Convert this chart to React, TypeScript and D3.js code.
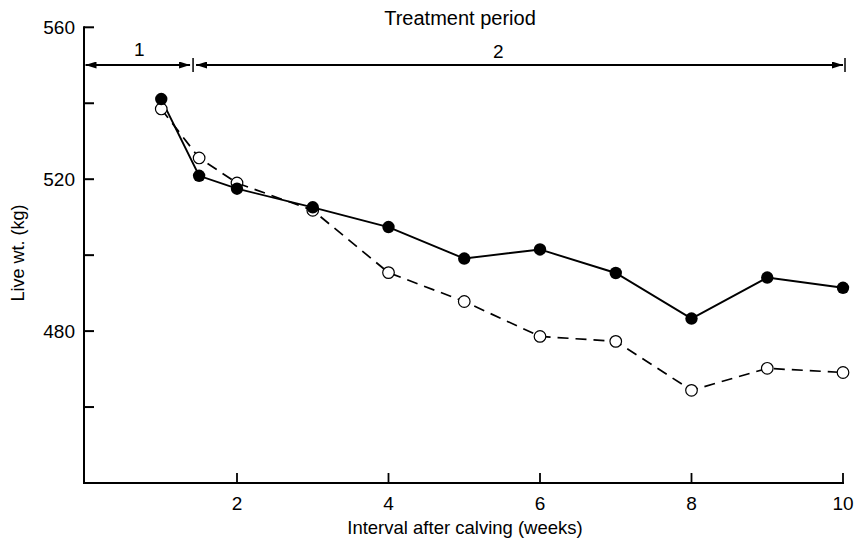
import React, { useEffect, useRef } from 'react';
import * as d3 from 'd3';

// weeks after calving
const weeks = [1, 1.5, 2, 3, 4, 5, 6, 7, 8, 9, 10];
// live weight (kg), filled circles / solid line
const filledWt = [541.1, 520.9, 517.5, 512.6, 507.4, 499.1, 501.5, 495.3, 483.3, 494.1, 491.4];
// live weight (kg), open circles / dashed line
const openWt = [538.5, 525.6, 519.0, 511.8, 495.4, 487.8, 478.6, 477.3, 464.4, 470.2, 469.1];

const xTicks = [2, 4, 6, 8, 10];
const yTicks = [460, 480, 500, 520, 540, 560];
const yTickLabels = [480, 520, 560];

// treatment periods along the top
const periodLabels = ['1', '2'];
const periodStart = [0, 1.42];
const periodEnd = [1.42, 10];
const periodLabelAt = [0.71, 5.45];

const FONT = 'Liberation Sans, Arial, Helvetica, sans-serif';

const App = () => {
  const ref = useRef<SVGSVGElement>(null);

  useEffect(() => {
    const svg = d3.select(ref.current);
    svg.selectAll('*').remove();
    draw(svg);
  }, []);

  return (
    <svg
      ref={ref}
      width={857}
      height={545}
      style={{ position: 'absolute', left: 0, top: 0, background: '#fff' }}
    />
  );
};

const draw = (svg: any) => {
  const x = d3.scaleLinear().domain([0, 10]).range([85.5, 843]);
  const y = d3.scaleLinear().domain([440, 560]).range([483, 27.3]);

  const defs = svg.append('defs');
  // arrow heads
  defs.append('marker')
    .attr('id', 'arr')
    .attr('viewBox', '0 0 11 7')
    .attr('refX', 11)
    .attr('refY', 3.5)
    .attr('markerWidth', 11)
    .attr('markerHeight', 7)
    .attr('markerUnits', 'userSpaceOnUse')
    .attr('orient', 'auto-start-reverse')
    .append('path')
    .attr('d', 'M0,0 L11,3.5 L0,7 Z')
    .attr('fill', '#000');

  const g = svg.append('g');

  // axes
  const axisX0 = x(0) - 1.5;
  g.append('line')
    .attr('x1', axisX0).attr('x2', axisX0)
    .attr('y1', y(560) - 1).attr('y2', y(440) + 1)
    .attr('stroke', '#000').attr('stroke-width', 2);
  g.append('line')
    .attr('x1', axisX0).attr('x2', x(10) + 1)
    .attr('y1', y(440)).attr('y2', y(440))
    .attr('stroke', '#000').attr('stroke-width', 2);

  // y ticks point inwards
  g.selectAll('.ytick')
    .data(yTicks)
    .enter().append('line')
    .attr('x1', axisX0).attr('x2', axisX0 + 10)
    .attr('y1', (d: number) => y(d)).attr('y2', (d: number) => y(d))
    .attr('stroke', '#000').attr('stroke-width', 2);

  g.selectAll('.ylab')
    .data(yTickLabels)
    .enter().append('text')
    .attr('x', axisX0 - 9)
    .attr('y', (d: number) => y(d) + 7)
    .attr('text-anchor', 'end')
    .attr('font-family', FONT)
    .attr('font-size', 19)
    .text((d: number) => d);

  // x ticks point up
  g.selectAll('.xtick')
    .data(xTicks)
    .enter().append('line')
    .attr('x1', (d: number) => x(d)).attr('x2', (d: number) => x(d))
    .attr('y1', y(440)).attr('y2', y(440) - 10)
    .attr('stroke', '#000').attr('stroke-width', 1.8);

  g.selectAll('.xlab')
    .data(xTicks)
    .enter().append('text')
    .attr('x', (d: number) => x(d))
    .attr('y', 510)
    .attr('text-anchor', 'middle')
    .attr('font-family', FONT)
    .attr('font-size', 19)
    .text((d: number) => d);

  g.append('text')
    .attr('x', 465)
    .attr('y', 534)
    .attr('text-anchor', 'middle')
    .attr('font-family', FONT)
    .attr('font-size', 18.5)
    .text('Interval after calving (weeks)');

  g.append('text')
    .attr('transform', 'translate(24,253) rotate(-90)')
    .attr('text-anchor', 'middle')
    .attr('font-family', FONT)
    .attr('font-size', 18)
    .text('Live wt. (kg)');

  // treatment period header
  const arrowY = 65;
  g.append('text')
    .attr('x', 460)
    .attr('y', 24.5)
    .attr('text-anchor', 'middle')
    .attr('font-family', FONT)
    .attr('font-size', 20)
    .text('Treatment period');

  periodLabels.forEach((lab, i) => {
    const a = x(periodStart[i]) + (i === 0 ? 0 : 3);
    const b = x(periodEnd[i]) - (i === 0 ? 3 : 0);
    g.append('line')
      .attr('x1', a).attr('x2', b)
      .attr('y1', arrowY).attr('y2', arrowY)
      .attr('stroke', '#000').attr('stroke-width', 1.8)
      .attr('marker-start', 'url(#arr)')
      .attr('marker-end', 'url(#arr)');
    g.append('text')
      .attr('x', x(periodLabelAt[i]))
      .attr('y', i === 0 ? 56 : 58)
      .attr('text-anchor', 'middle')
      .attr('font-family', FONT)
      .attr('font-size', 19)
      .text(lab);
  });
  // boundary bars
  [periodStart[1], periodEnd[1]].forEach((v, i) => {
    const bx = x(v) + (i === 0 ? 0 : 2);
    g.append('line')
      .attr('x1', bx).attr('x2', bx)
      .attr('y1', arrowY - 7).attr('y2', arrowY + 7)
      .attr('stroke', '#000').attr('stroke-width', 1.5);
  });

  const filled = weeks.map((w, i) => ({ w, v: filledWt[i] }));
  const open = weeks.map((w, i) => ({ w, v: openWt[i] }));

  const line = d3.line<any>()
    .x(d => x(d.w))
    .y(d => y(d.v))
    .curve(d3.curveLinear);

  g.append('path')
    .datum(open)
    .attr('fill', 'none')
    .attr('stroke', '#000')
    .attr('stroke-width', 1.7)
    .attr('stroke-dasharray', '11,7')
    .attr('d', line);

  g.append('path')
    .datum(filled)
    .attr('fill', 'none')
    .attr('stroke', '#000')
    .attr('stroke-width', 1.9)
    .attr('d', line);

  g.selectAll('.opendot')
    .data(open)
    .enter().append('circle')
    .attr('cx', (d: any) => x(d.w))
    .attr('cy', (d: any) => y(d.v))
    .attr('r', 5.8)
    .attr('fill', '#fff')
    .attr('stroke', '#000')
    .attr('stroke-width', 1.2);

  g.selectAll('.filldot')
    .data(filled)
    .enter().append('circle')
    .attr('cx', (d: any) => x(d.w))
    .attr('cy', (d: any) => y(d.v))
    .attr('r', 6.2)
    .attr('fill', '#000');
};

export default App;
